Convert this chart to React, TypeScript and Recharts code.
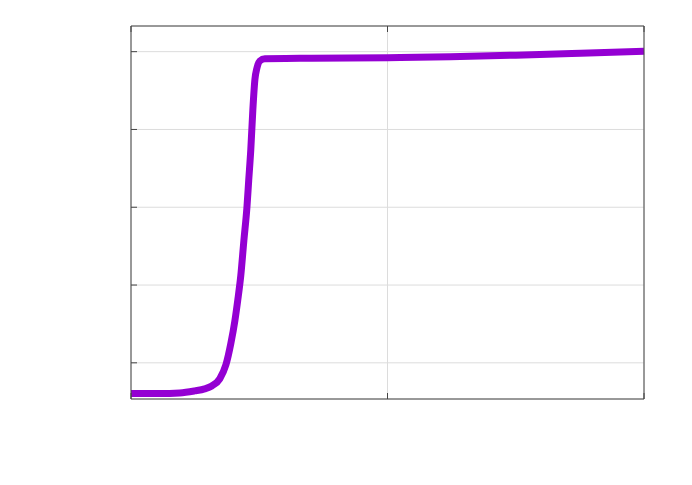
import { LineChart, Line, XAxis, YAxis, CartesianGrid } from "recharts";

const xValues = [
  0, 0.111, 0.19, 0.248, 0.287, 0.315, 0.346, 0.37, 0.389, 0.405, 0.416, 0.428, 0.44,
  0.452, 0.459, 0.467, 0.475, 0.483, 0.491, 0.502, 0.522, 0.659, 1.0, 1.245, 1.5, 1.754, 2.0,
];
const yValues = [
  -0.394, -0.394, -0.387, -0.361, -0.335, -0.297, -0.206, -0.026, 0.245, 0.542, 0.8, 1.12, 1.57,
  2.0, 2.35, 2.74, 3.25, 3.64, 3.79, 3.88, 3.91, 3.914, 3.923, 3.935, 3.955, 3.98, 4.006,
];
const xTicks = [0, 1, 2];
const yTicks = [0, 1, 2, 3, 4];

const data = xValues.map((x, i) => ({ x, y: yValues[i] }));

const frame = "#444";
const xDomain = [0, 2];
const yDomain = [-0.465, 4.33];

// no tick labels, only the small inward tick marks
const NoLabel = () => <g />;

function App() {
  return (
    <div style={{ position: "absolute", left: 0, top: 0 }}>
      <LineChart width={692} height={485} data={data} margin={{ top: 26, right: 48, bottom: 86, left: 131 }}>
        <CartesianGrid stroke="#dcdcdc" strokeWidth={1} xAxisId={0} yAxisId={0} />
        <XAxis
          xAxisId={0}
          dataKey="x"
          type="number"
          domain={xDomain}
          ticks={xTicks}
          height={1}
          mirror
          tick={NoLabel}
          tickSize={6}
          axisLine={{ stroke: frame }}
          tickLine={{ stroke: frame }}
        />
        <XAxis
          xAxisId="top"
          orientation="top"
          dataKey="x"
          type="number"
          domain={xDomain}
          ticks={xTicks}
          height={1}
          mirror
          tick={NoLabel}
          tickSize={6}
          axisLine={{ stroke: frame }}
          tickLine={{ stroke: frame }}
        />
        <YAxis
          yAxisId={0}
          type="number"
          domain={yDomain}
          ticks={yTicks}
          width={1}
          mirror
          tick={NoLabel}
          tickSize={6}
          axisLine={{ stroke: frame }}
          tickLine={{ stroke: frame }}
        />
        <YAxis
          yAxisId="right"
          orientation="right"
          type="number"
          domain={yDomain}
          ticks={yTicks}
          width={1}
          mirror
          tick={NoLabel}
          tickSize={6}
          axisLine={{ stroke: frame }}
          tickLine={{ stroke: frame }}
        />
        <Line
          xAxisId={0}
          yAxisId={0}
          type="monotone"
          dataKey="y"
          stroke="#9400d3"
          strokeWidth={7}
          dot={false}
          isAnimationActive={false}
        />
      </LineChart>
    </div>
  );
}

export default App;
